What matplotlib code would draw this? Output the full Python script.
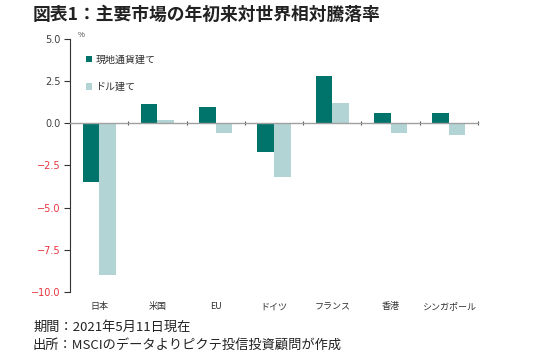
import matplotlib
matplotlib.use("Agg")
import matplotlib.pyplot as plt
import numpy as np
from matplotlib.patches import Patch

plt.rcParams['font.family'] = ['Noto Sans CJK JP', 'DejaVu Sans']

categories = ["日本", "米国", "EU", "ドイツ", "フランス", "香港", "シンガポール"]
local_ccy = [-3.5, 1.15, 0.95, -1.7, 2.8, 0.6, 0.6]
usd_based = [-9.0, 0.22, -0.6, -3.2, 1.2, -0.55, -0.7]
series_names = ["現地通貨建て", "ドル建て"]
yticks = [5.0, 2.5, 0.0, -2.5, -5.0, -7.5, -10.0]

title = "図表1：主要市場の年初来対世界相対騰落率"
note1 = "期間：2021年5月11日現在"
note2 = "出所：MSCIのデータよりピクテ投信投資顧問が作成"

c_dark = "#00736b"
c_light = "#b2d4d5"
c_red = "#e8333f"
c_text = "#404040"

fig = plt.figure(figsize=(5.5, 3.55), dpi=100)
ax = fig.add_axes([0.1273, 0.178, 0.869 - 0.1273, 0.890 - 0.178])

x = np.arange(len(categories))
w = 0.285
ax.bar(x - w / 2, local_ccy, width=w, color=c_dark, label=series_names[0])
ax.bar(x + w / 2, usd_based, width=w, color=c_light, label=series_names[1])

ax.set_xlim(-0.5, len(categories) - 0.5)
ax.set_ylim(-10, 5)

for s in ["top", "right"]:
    ax.spines[s].set_visible(False)
ax.spines["left"].set_color("#333333")
ax.spines["left"].set_linewidth(0.8)
ax.spines["bottom"].set_position(("data", 0))
ax.spines["bottom"].set_color("#a0a0a0")
ax.spines["bottom"].set_linewidth(1.0)

ax.set_yticks(yticks)
ax.set_yticklabels([f"{v:.1f}".replace("-", "\u2212") for v in yticks], fontsize=7,
                   family=['DejaVu Sans'])
for lbl, v in zip(ax.get_yticklabels(), yticks):
    lbl.set_color(c_red if v < 0 else c_text)
ax.tick_params(axis="y", length=4, width=0.8, color="#333333", pad=3)

ax.set_xticks(x)
ax.set_xticklabels([])
ax.tick_params(axis="x", which="major", length=0)
ax.set_xticks(np.arange(len(categories) + 1) - 0.5, minor=True)
ax.tick_params(axis="x", which="minor", length=3, direction="inout", color="#555555", width=0.8)

for xi, c in zip(x, categories):
    ax.text(xi, -0.06, c, transform=ax.get_xaxis_transform(), ha="center", va="center",
            fontsize=6.5, color="#303030")

ax.text(0.018, 1.0, "%", transform=ax.transAxes, fontsize=5.5, color=c_text, va="bottom", ha="left")

handles = [Patch(facecolor=c_dark), Patch(facecolor=c_light)]
leg = ax.legend(handles, series_names, loc="upper left", bbox_to_anchor=(0.03, 0.955),
                frameon=False, fontsize=7.2, handlelength=0.6, handleheight=0.6,
                handletextpad=0.3, labelspacing=1.75, borderaxespad=0)
for t in leg.get_texts():
    t.set_color("#303030")

fig.text(0.06, 0.957, title, fontsize=12.8, fontweight="bold", color="#222222", va="center", ha="left")
fig.text(0.06, 0.079, note1, fontsize=9.5, color="#222222", va="center", ha="left")
fig.text(0.06, 0.028, note2, fontsize=9.5, color="#222222", va="center", ha="left")

fig.savefig("out.png", dpi=100, facecolor="white")
